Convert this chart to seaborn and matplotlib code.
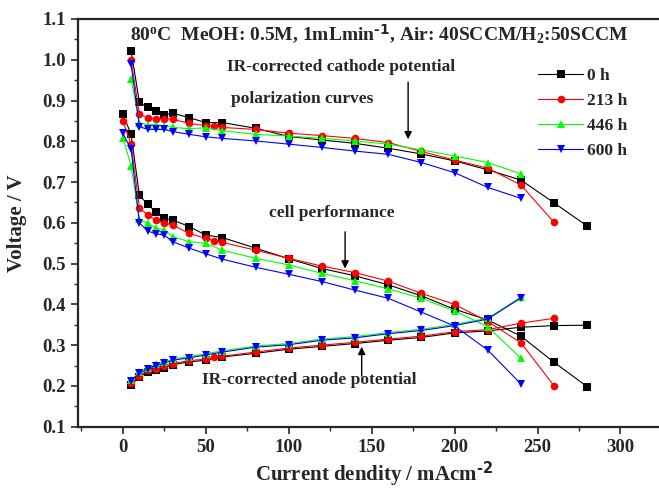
import matplotlib
matplotlib.use("Agg")
import matplotlib.pyplot as plt
from matplotlib.lines import Line2D
import numpy as np
import pandas as pd
import seaborn as sns

# ---- data ----
times = ["0 h", "213 h", "446 h", "600 h"]

x_0h = [0, 5, 10, 15, 20, 25, 30, 40, 50, 60, 80, 100, 120, 140, 160, 180, 200, 220, 240, 260, 280]
cell_0h = [0.867, 0.817, 0.668, 0.645, 0.627, 0.611, 0.607, 0.591, 0.570, 0.564, 0.538,
           0.512, 0.488, 0.470, 0.448, 0.421, 0.388, 0.362, 0.322, 0.258, 0.198]
cath_0h = [1.022, 0.896, 0.883, 0.875, 0.865, 0.869, 0.858, 0.846, 0.846, 0.832,
           0.812, 0.803, 0.795, 0.783, 0.769, 0.752, 0.730, 0.705, 0.649, 0.592]
anode_0h = [0.203, 0.222, 0.235, 0.239, 0.245, 0.252, 0.259, 0.263, 0.271, 0.280,
            0.290, 0.297, 0.304, 0.312, 0.319, 0.330, 0.335, 0.344, 0.348, 0.349]

x_213h = [0, 5, 10, 15, 20, 25, 30, 40, 50, 55, 60, 80, 100, 120, 140, 160, 180, 200, 220, 240, 260]
cell_213h = [0.850, 0.793, 0.637, 0.619, 0.607, 0.599, 0.595, 0.574, 0.562, 0.556, 0.552,
             0.533, 0.513, 0.494, 0.478, 0.457, 0.427, 0.400, 0.358, 0.306, 0.200]
cath_213h = [0.999, 0.867, 0.858, 0.855, 0.855, 0.854, 0.844, 0.838, 0.838, 0.834,
             0.829, 0.820, 0.814, 0.807, 0.797, 0.775, 0.754, 0.734, 0.693, 0.601]
anode_213h = [0.206, 0.225, 0.238, 0.242, 0.248, 0.255, 0.262, 0.266, 0.270, 0.273,
              0.283, 0.293, 0.300, 0.307, 0.315, 0.322, 0.333, 0.338, 0.354, 0.366]

x_446h = [0, 5, 10, 15, 20, 25, 30, 40, 50, 60, 80, 100, 120, 140, 160, 180, 200, 220, 240]
cell_446h = [0.809, 0.740, 0.609, 0.599, 0.587, 0.583, 0.566, 0.554, 0.550, 0.533,
             0.513, 0.497, 0.476, 0.458, 0.438, 0.415, 0.384, 0.345, 0.268]
cath_446h = [0.953, 0.846, 0.841, 0.841, 0.838, 0.834, 0.831, 0.833, 0.826, 0.817,
             0.813, 0.807, 0.801, 0.793, 0.779, 0.764, 0.748, 0.720]
anode_446h = [0.215, 0.234, 0.245, 0.253, 0.259, 0.266, 0.272, 0.279, 0.286, 0.298,
              0.304, 0.315, 0.321, 0.331, 0.339, 0.351, 0.366, 0.418]

x_600h = [0, 5, 10, 15, 20, 25, 30, 40, 50, 60, 80, 100, 120, 140, 160, 180, 200, 220, 240]
cell_600h = [0.820, 0.780, 0.600, 0.580, 0.573, 0.570, 0.554, 0.538, 0.524, 0.511,
             0.491, 0.474, 0.456, 0.435, 0.415, 0.381, 0.347, 0.288, 0.205]
cath_600h = [0.989, 0.836, 0.829, 0.829, 0.829, 0.824, 0.817, 0.811, 0.807, 0.801,
             0.793, 0.785, 0.776, 0.768, 0.748, 0.723, 0.687, 0.660]
anode_600h = [0.212, 0.231, 0.242, 0.250, 0.256, 0.263, 0.269, 0.276, 0.283, 0.295,
              0.301, 0.312, 0.318, 0.328, 0.336, 0.348, 0.364, 0.416]

colors = {"0 h": "black", "213 h": "#ff0000", "446 h": "#00ff00", "600 h": "#0000ff"}
markers = {"0 h": "s", "213 h": "o", "446 h": "^", "600 h": "v"}

# long table: cell curve starts at 0, cathode/anode curves start at 5 mA/cm2
series = {
    "0 h": (x_0h, cell_0h, cath_0h, anode_0h),
    "213 h": (x_213h, cell_213h, cath_213h, anode_213h),
    "446 h": (x_446h, cell_446h, cath_446h, anode_446h),
    "600 h": (x_600h, cell_600h, cath_600h, anode_600h),
}
rows = []
for t, (xs, cell, cath, anode) in series.items():
    for curve, ys, xx in [("cell", cell, xs), ("cathode", cath, xs[1:]), ("anode", anode, xs[1:])]:
        for a, b in zip(xx, ys):
            rows.append({"current": a, "voltage": b, "time": t, "curve": t + curve})
df = pd.DataFrame(rows)

sns.set_style("ticks")
plt.rcParams["font.family"] = ["Liberation Serif", "DejaVu Serif"]
plt.rcParams["font.weight"] = "bold"
plt.rcParams["mathtext.default"] = "regular"

fig = plt.figure(figsize=(6.59, 4.88), dpi=100)
ax = fig.add_axes([0.1184, 0.1256, 0.8986, 0.8355])

sns.lineplot(data=df, x="current", y="voltage", hue="time", style="time",
             units="curve", estimator=None, sort=False, hue_order=times,
             style_order=times, palette=colors, markers=markers, dashes=False,
             linewidth=0.8, markersize=5.5, markeredgewidth=0, legend=False, ax=ax)

ax.set_xlim(-27, 330)
ax.set_ylim(0.1, 1.1)
ax.set_xticks(np.arange(0, 301, 50))
ax.set_xticks(np.arange(-25, 330, 25), minor=True)
ax.set_yticks(np.arange(0.1, 1.101, 0.1))
ax.set_yticks(np.arange(0.1, 1.101, 0.05), minor=True)
ax.yaxis.set_major_formatter(matplotlib.ticker.FormatStrFormatter("%.1f"))
ax.tick_params(which="major", direction="out", length=5, width=1.2, labelsize=13.5, pad=4)
ax.tick_params(which="minor", direction="out", length=3, width=1.0)
for lab in ax.get_xticklabels() + ax.get_yticklabels():
    lab.set_fontweight("bold")
for s in ax.spines.values():
    s.set_linewidth(1.6)

ax.set_xlabel(r"Current dendity / mAcm$^{\text{-2}}$", fontsize=15, fontweight="bold", labelpad=2)
ax.set_ylabel("Voltage / V", fontsize=15, fontweight="bold", labelpad=11)

txt = dict(fontsize=12.5, fontweight="bold", va="center", ha="left")
ax.text(4.5, 1.063, r"80$^{o}$C  MeOH: 0.5M, 1mLmin$^{\text{-1}}$, Air: 40SCCM/H$_{2}$:50SCCM",
        fontsize=14, fontweight="bold", va="center", ha="left")
ax.text(63, 0.982, "IR-corrected cathode potential", **txt)
ax.text(65, 0.904, "polarization curves", **txt)
ax.text(88, 0.624, "cell performance", **txt)
ax.text(48, 0.215, "IR-corrected anode potential", **txt)

arrow = dict(arrowstyle="-|>", color="black", lw=1.0, mutation_scale=11, shrinkA=0, shrinkB=0)
ax.annotate("", xy=(172, 0.805), xytext=(172, 0.945), arrowprops=arrow)
ax.annotate("", xy=(134, 0.488), xytext=(134, 0.578), arrowprops=arrow)
ax.annotate("", xy=(144, 0.296), xytext=(144, 0.224), arrowprops=arrow)

handles = [Line2D([], [], color=colors[t], marker=markers[t], lw=0.8, ms=5.5, mew=0) for t in times]
ax.legend(handles, times, loc="upper left", bbox_to_anchor=(538 / 659, 1 - 68 / 488),
          bbox_transform=fig.transFigure, frameon=False, handlelength=2.6,
          handletextpad=0.25, labelspacing=0.5, borderpad=0, borderaxespad=0,
          prop=dict(family="Liberation Serif", weight="bold", size=12.5))

fig.savefig("out.png", dpi=100)
